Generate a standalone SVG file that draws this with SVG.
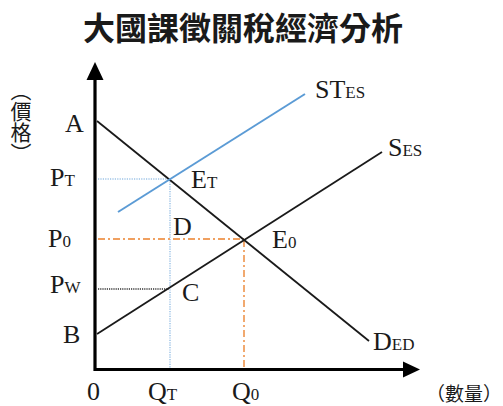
<svg xmlns="http://www.w3.org/2000/svg" width="503" height="406" viewBox="0 0 503 406">
<style>
.t{font-family:"Liberation Serif","DejaVu Serif",serif;font-size:26px;fill:#1a1a1a}
.s{font-size:17px}
.cjk{font-family:"Noto Sans CJK TC","Noto Sans CJK SC",sans-serif;fill:#1a1a1a}
.ln{stroke:#1a1a1a;stroke-width:1.8;fill:none}
.ax{stroke:#000;stroke-width:3.2;fill:none}
.blue{stroke:#5b9bd5;stroke-width:2;fill:none}
.bdot{stroke:#9dc3e6;stroke-width:1.5;stroke-dasharray:1.2 1.2;fill:none}
.odd{stroke:#f0a060;stroke-width:1.8;stroke-dasharray:7 3 2 3;fill:none}
.kdot{stroke:#333;stroke-width:1.6;stroke-dasharray:1.2 1;fill:none}
</style>
<rect width="503" height="406" fill="#fff"/>
<text class="cjk" x="243" y="40" font-size="32" font-weight="bold" text-anchor="middle">大國課徵關稅經濟分析</text>
<text class="cjk" x="21" y="80" font-size="21" style="writing-mode:vertical-rl">︵價格︶</text>
<g id="connectors">
<polyline class="ax" points="95,76 95,369.5 405,369.5"/>
<polygon points="95,62 86.5,80 103.5,80" fill="#000"/>
<polygon points="420,369.5 403,361.5 403,377.5" fill="#000"/>
<line class="bdot" x1="98" y1="179" x2="170" y2="179"/>
<line class="bdot" x1="170" y1="179" x2="170" y2="368"/>
<line class="odd" x1="98" y1="239" x2="244" y2="239"/>
<line class="odd" x1="244" y1="240" x2="244" y2="368"/>
<line class="kdot" x1="98" y1="289" x2="169" y2="289"/>
<line id="demand" class="ln" x1="97" y1="121" x2="369" y2="341"/>
<line id="supply" class="ln" x1="97" y1="334" x2="382" y2="152"/>
<line id="supplyT" class="blue" x1="118" y1="212" x2="305" y2="94"/>
</g>
<g id="labels">
<text class="t" x="65" y="132">A</text>
<text class="t" x="50" y="186">P<tspan class="s">T</tspan></text>
<text class="t" x="48" y="247">P<tspan class="s">0</tspan></text>
<text class="t" x="50" y="293">P<tspan class="s">W</tspan></text>
<text class="t" x="63" y="343">B</text>
<text class="t" x="191" y="188">E<tspan class="s">T</tspan></text>
<text class="t" x="173" y="235">D</text>
<text class="t" x="182" y="301">C</text>
<text class="t" x="272" y="248">E<tspan class="s">0</tspan></text>
<text class="t" x="388" y="156">S<tspan class="s">ES</tspan></text>
<text class="t" x="315" y="98">ST<tspan class="s">ES</tspan></text>
<text class="t" x="373" y="350">D<tspan class="s">ED</tspan></text>
<text class="t" x="87" y="400">0</text>
<text class="t" x="148" y="400">Q<tspan class="s">T</tspan></text>
<text class="t" x="232" y="400">Q<tspan class="s">0</tspan></text>
<text class="cjk" x="426" y="401" font-size="19">（數量）</text>
</g>
</svg>
